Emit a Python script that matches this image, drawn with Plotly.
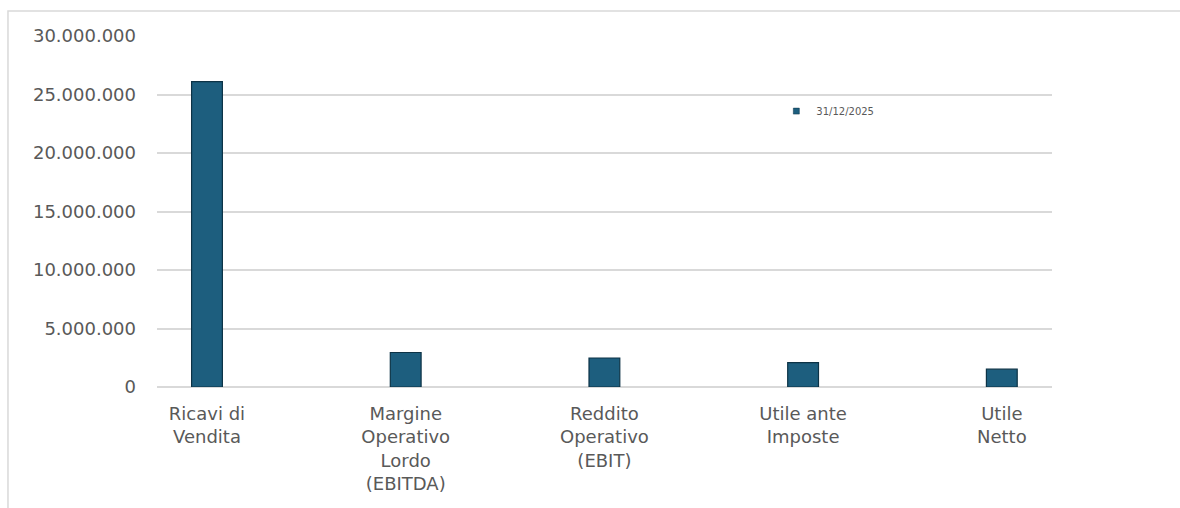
import plotly.graph_objects as go

categories = ["Ricavi di<br>Vendita", "Margine<br>Operativo<br>Lordo<br>(EBITDA)",
              "Reddito<br>Operativo<br>(EBIT)", "Utile ante<br>Imposte", "Utile<br>Netto"]
values_2025 = [26100000, 2950000, 2480000, 2080000, 1520000]
series_name = "31/12/2025"
y_tickvals = [0, 5000000, 10000000, 15000000, 20000000, 25000000, 30000000]
y_ticktext = ["0", "5.000.000", "10.000.000", "15.000.000", "20.000.000", "25.000.000", "30.000.000"]

bar_color = "#1d5e7e"

fig = go.Figure()
fig.add_trace(go.Bar(
    x=categories, y=values_2025, name=series_name,
    width=0.155,
    marker=dict(color=bar_color, line=dict(color="#0d3346", width=1.2)),
    showlegend=False, legendgroup="s",
))
# legend entry with a small square symbol like the original
fig.add_trace(go.Scatter(
    x=[None], y=[None], mode="markers", name=series_name, legendgroup="s",
    marker=dict(symbol="square", size=6, color=bar_color,
                line=dict(color="#0d3346", width=0.5)),
    showlegend=True,
))

fig.update_layout(
    width=1180, height=508,
    margin=dict(l=157, r=128, t=36, b=121),
    paper_bgcolor="white", plot_bgcolor="white",
    font=dict(family="DejaVu Sans", size=18, color="#595959"),
    showlegend=True,
    legend=dict(x=0.692, y=0.786, xanchor="left", yanchor="middle",
                font=dict(size=10, color="#595959"), bgcolor="rgba(0,0,0,0)",
                itemwidth=30),
    xaxis=dict(range=[-0.2516, 4.2526], showgrid=False, showline=False,
               ticks="", tickfont=dict(size=18, color="#595959"), zeroline=False,
               ticklabelstandoff=14),
    yaxis=dict(range=[0, 30000000], tickvals=y_tickvals, ticktext=y_ticktext,
               showgrid=True, gridcolor="#d9d9d9", gridwidth=1.5,
               zeroline=True, zerolinecolor="#d9d9d9", zerolinewidth=1.5,
               showline=False, ticks="", ticklabelstandoff=20,
               tickfont=dict(size=18, color="#595959")),
    shapes=[
        dict(type="rect", xref="paper", yref="paper",
             x0=-0.1665, x1=1.2, y0=-0.4, y1=1.0712,
             line=dict(color="#d9d9d9", width=1.5), fillcolor="rgba(0,0,0,0)",
             layer="below"),
    ],
)

fig.write_html("out.html")
